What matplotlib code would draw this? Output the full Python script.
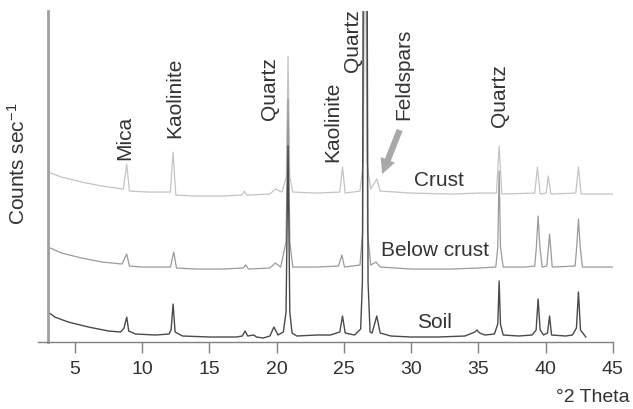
import matplotlib
matplotlib.use('Agg')
import matplotlib.pyplot as plt

plt.rcParams['font.family'] = ['Liberation Sans', 'DejaVu Sans']
plt.rcParams['mathtext.fontset'] = 'custom'
plt.rcParams['mathtext.rm'] = 'Liberation Sans'
plt.rcParams['mathtext.it'] = 'Liberation Sans'

# diffractograms (2theta, relative counts)
soil_2theta = [3.0, 3.5, 4.5, 6.0, 7.5, 8.4, 8.65, 8.85, 9.0, 9.5, 11.0, 12.0, 12.15, 12.3, 12.45,
               13.0, 15.0, 17.0, 17.45, 17.65, 17.85, 18.3, 18.5, 19.0, 19.5, 19.8, 20.1, 20.5,
               20.7, 20.85, 20.98, 21.15, 21.5, 23.0, 24.0, 24.7, 24.9, 25.1, 25.8, 26.25, 26.38,
               26.45, 26.72, 26.8, 26.95, 27.1, 27.45, 27.7, 28.5, 30.0, 32.0, 34.0, 34.75, 34.9, 35.1,
               35.5, 36.2, 36.45, 36.55, 36.65, 36.85, 38.0, 39.0, 39.3, 39.45, 39.6, 39.85, 40.15,
               40.3, 40.45, 41.5, 42.0, 42.3, 42.45, 42.6, 43.0]
soil_counts = [30, 25, 20, 15, 11, 10, 14, 25, 11, 8, 7, 8, 12, 38, 10,
               6, 5, 5, 6, 11, 6, 7, 5, 4, 6, 15, 7, 10,
               30, 196, 30, 9, 6, 7, 7, 10, 26, 9, 7, 13, 60,
               420, 420, 60, 10, 9, 26, 9, 6, 5, 5, 6, 10, 12, 9,
               7, 8, 18, 61, 18, 7, 6, 7, 12, 43, 12, 7, 9,
               26, 7, 6, 7, 14, 50, 12, 5]

below_2theta = [3.0, 4.0, 5.5, 7.0, 8.5, 8.85, 9.05, 10.0, 12.1, 12.35, 12.55, 14.0, 16.0, 17.5,
                17.7, 17.9, 19.5, 19.9, 20.3, 20.7, 20.85, 20.98, 21.2, 23.0, 24.6, 24.85, 25.05,
                26.2, 26.4, 26.48, 26.68, 26.76, 27.0, 27.4, 27.7, 30.0, 33.0, 35.0, 36.3, 36.45, 36.55,
                36.65, 36.85, 38.5, 39.2, 39.32, 39.45, 39.58, 39.75, 40.1, 40.3, 40.5, 42.2, 42.32,
                42.45, 42.58, 42.75, 45.0]
below_counts = [95, 89, 84, 80, 78, 88, 76, 75, 75, 90, 74, 73, 73, 74,
                77, 73, 74, 79, 75, 100, 243, 100, 75, 75, 76, 87, 75,
                77, 110, 420, 420, 110, 77, 80, 75, 73, 73, 74, 75, 95, 171,
                95, 75, 75, 76, 95, 126, 95, 75, 76, 108, 75, 76, 95,
                123, 95, 75, 75]

crust_2theta = [3.0, 4.0, 5.5, 7.0, 8.6, 8.85, 9.05, 10.5, 12.1, 12.3, 12.5, 14.0, 16.0, 17.4,
                17.6, 17.8, 19.5, 19.9, 20.4, 20.72, 20.85, 20.98, 21.2, 23.0, 24.7, 24.9, 25.1,
                26.2, 26.45, 26.58, 26.72, 27.0, 27.45, 27.7, 30.0, 33.0, 35.0, 36.35, 36.55, 36.75,
                39.2, 39.4, 39.6, 40.05, 40.2, 40.4, 42.25, 42.45, 42.65, 45.0]
crust_counts = [170, 165, 160, 156, 153, 178, 151, 150, 150, 190, 147, 146, 146, 147,
                151, 147, 148, 153, 150, 165, 286, 165, 150, 149, 150, 175, 149,
                151, 180, 460, 180, 153, 163, 151, 149, 148, 149, 149, 196, 148,
                149, 175, 148, 149, 166, 148, 149, 175, 148, 148]

# mineral labels: (text, 2theta, bottom of text)
minerals = ['Mica', 'Kaolinite', 'Quartz', 'Kaolinite', 'Quartz', 'Feldspars', 'Quartz']
mineral_x = [8.7, 12.4, 19.45, 24.2, 25.65, 29.45, 36.6]
mineral_y = [183, 205, 223, 181, 271, 223, 216]

samples = ['Soil', 'Below crust', 'Crust']
sample_x = [31.75, 31.75, 32.1]
sample_y = [21, 93, 163]

xticks = [5, 10, 15, 20, 25, 30, 35, 40, 45]

fig = plt.figure(figsize=(6.33, 4.10), dpi=100)
ax = fig.add_axes([0.060, 0.1634, 0.908, 0.807])

ax.plot(crust_2theta, crust_counts, color='#c4c4c4', lw=0.9)
ax.plot(below_2theta, below_counts, color='#9a9a9a', lw=0.9)
ax.plot(soil_2theta, soil_counts, color='#4a4a4a', lw=1.0)

ax.set_xlim(2.25, 45.0)
ax.set_ylim(0, 331)

for s in ['top', 'right']:
    ax.spines[s].set_visible(False)
ax.spines['left'].set_position(('data', 3))
ax.spines['left'].set_color('#a0a0a0')
ax.spines['left'].set_linewidth(2)
ax.spines['bottom'].set_color('#808080')
ax.spines['bottom'].set_linewidth(1)

ax.set_yticks([])
ax.set_xticks(xticks)
ax.tick_params(axis='x', direction='out', length=8, width=1, color='#808080',
               labelsize=14, labelcolor='#333333', pad=5)

for t, x, y in zip(minerals, mineral_x, mineral_y):
    ax.text(x, y, t, rotation=90, ha='center', va='bottom', fontsize=15, color='#333333')

for t, x, y in zip(samples, sample_x, sample_y):
    ax.text(x, y, t, ha='center', va='center', fontsize=15, color='#333333')

ax.annotate('', xy=(27.85, 168), xytext=(29.15, 212),
            arrowprops=dict(facecolor='#a8a8a8', edgecolor='none', width=4.5,
                            headwidth=11, headlength=11, shrink=0))

fig.text(0.028, 0.60, 'Counts sec$^{-1}$', rotation=90, ha='center', va='center',
         fontsize=15, color='#333333')
fig.text(0.995, 0.03, '°2 Theta', ha='right', va='center', fontsize=14, color='#333333')

fig.savefig('out.png', dpi=100)
